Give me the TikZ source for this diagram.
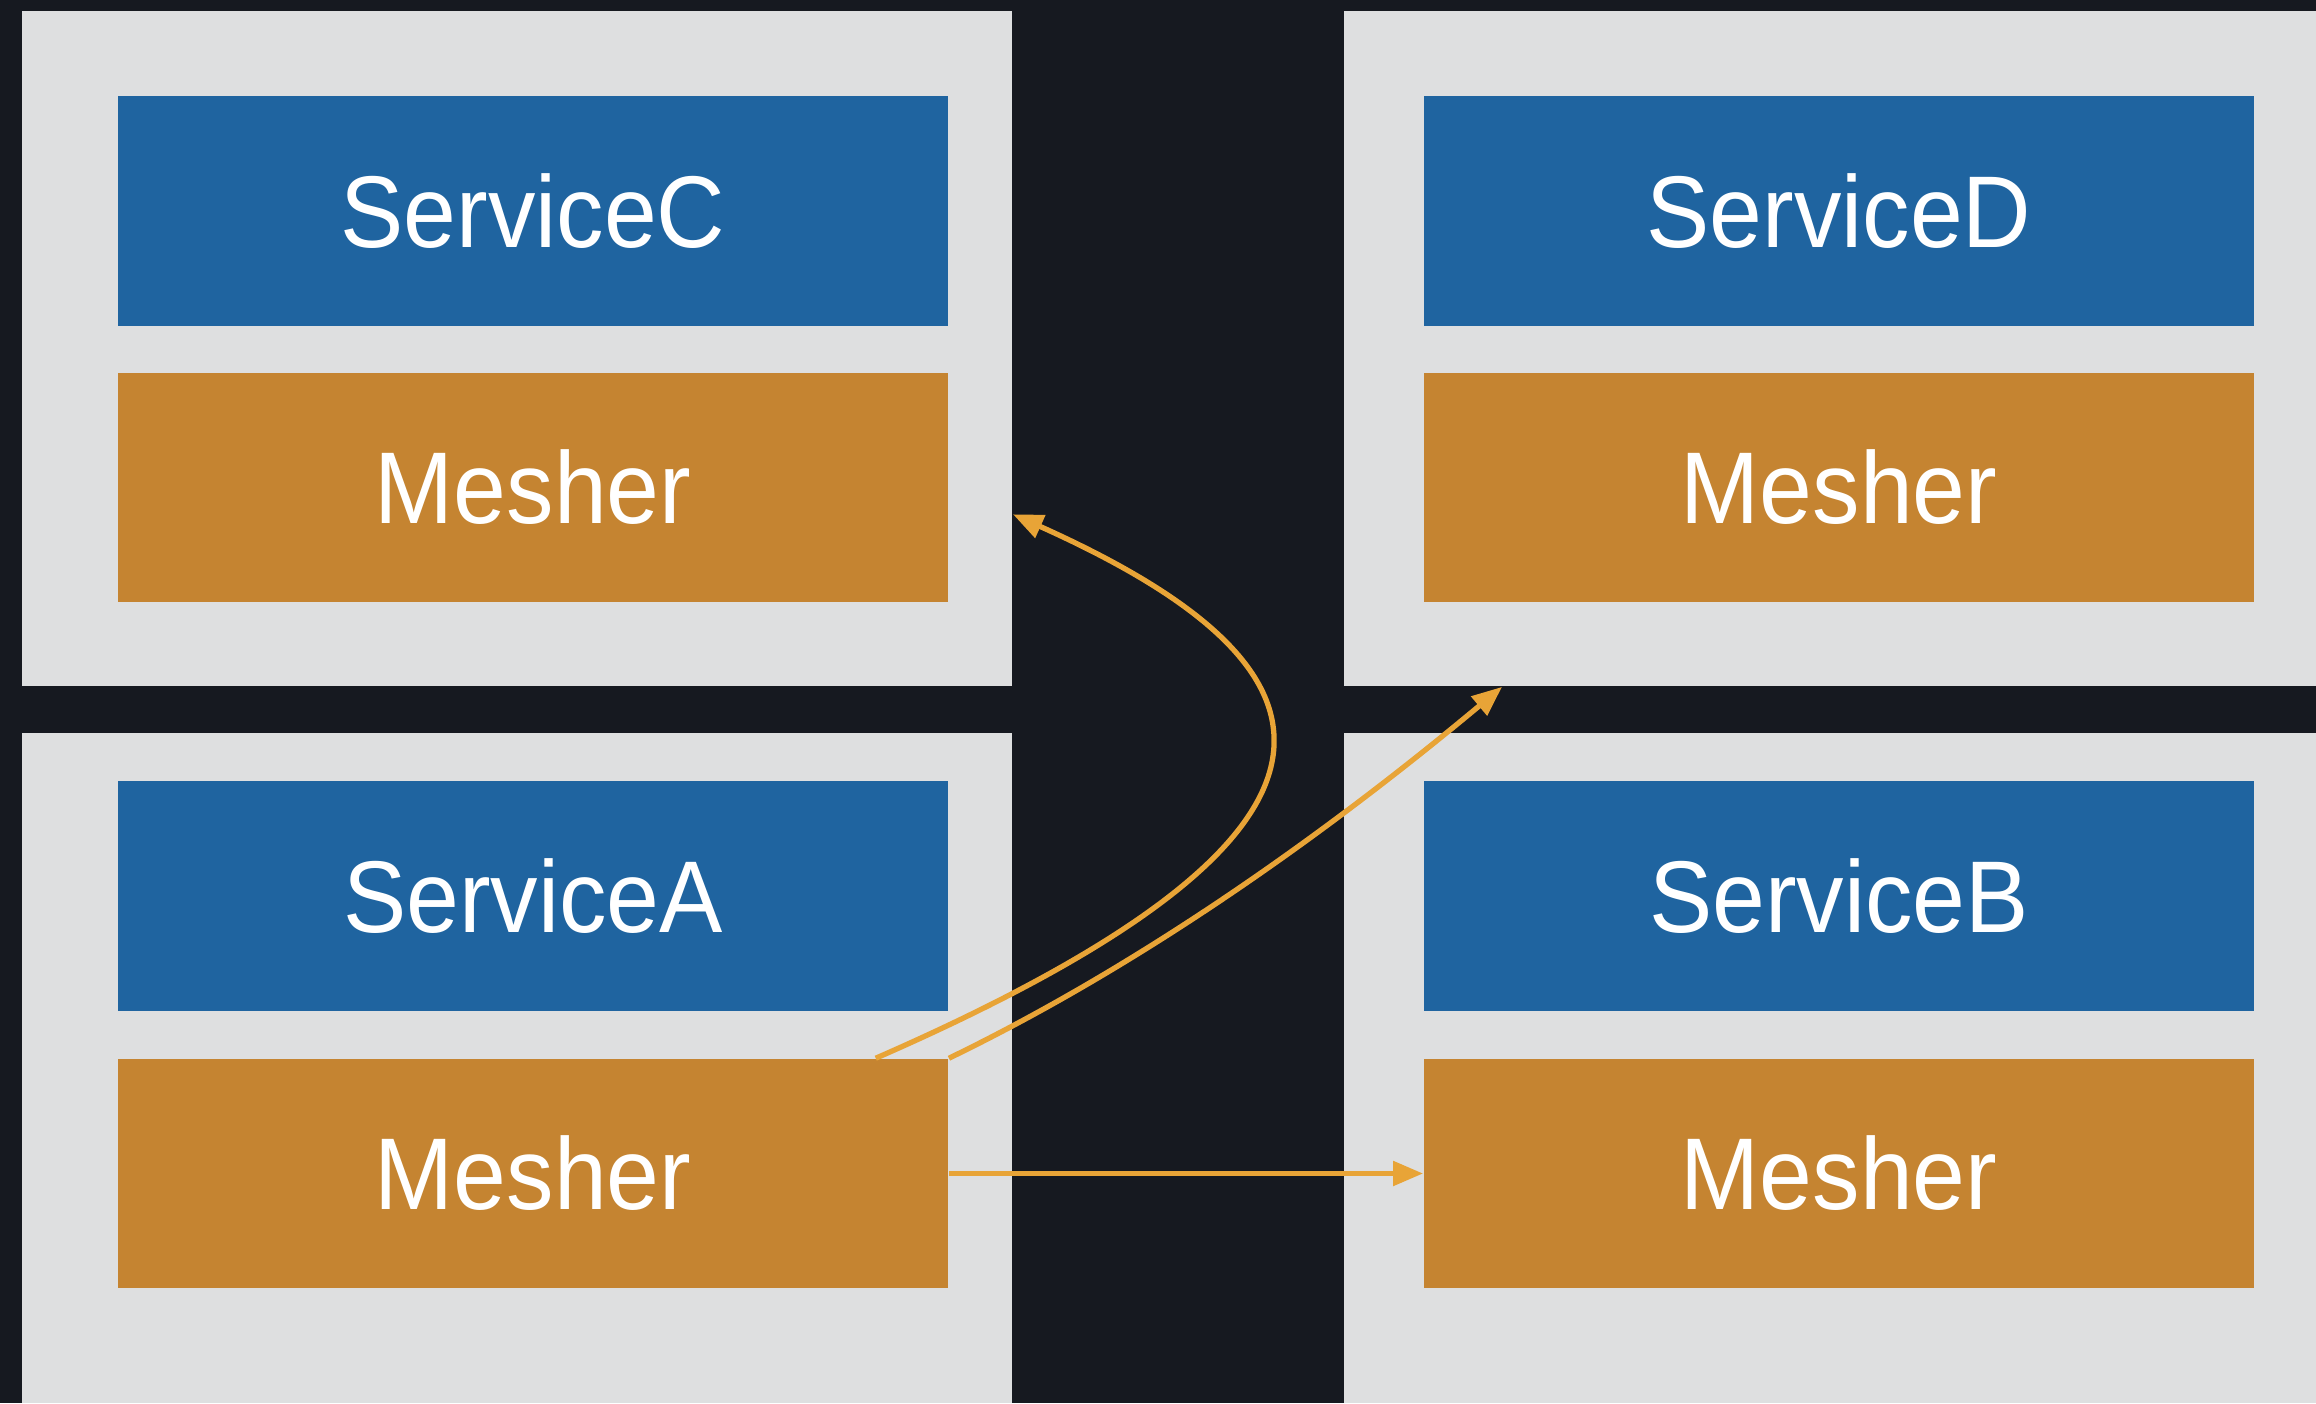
\documentclass[tikz,border=0pt]{standalone}
\usepackage{fontspec}
\setmainfont[FakeStretch=0.93]{Liberation Sans}
\usetikzlibrary{calc,arrows.meta}
\definecolor{bgdark}{HTML}{161920}
\definecolor{panelgrey}{HTML}{DEDFE0}
\definecolor{svcblue}{HTML}{1F64A0}
\definecolor{meshorange}{HTML}{C58431}
\definecolor{arroworange}{HTML}{E8A437}
\tikzset{
  panel/.style={fill=panelgrey, draw=none, inner sep=0pt, minimum width=9.9cm, minimum height=6.75cm},
  svcbox/.style={fill=svcblue, draw=none, inner sep=0pt, minimum width=8.3cm, minimum height=2.3cm, text=white, font=\fontsize{29}{34}\selectfont},
  meshbox/.style={fill=meshorange, draw=none, inner sep=0pt, minimum width=8.3cm, minimum height=2.29cm, text=white, font=\fontsize{29}{34}\selectfont},
  flow/.style={draw=arroworange, line width=1.5pt, -{Triangle[length=0.3cm,width=0.24cm]}}
}
\begin{document}
\begin{tikzpicture}[x=0.01cm,y=0.01cm]
\fill[bgdark] (0,0) rectangle (2316,1403);
\useasboundingbox (0,0) rectangle (2316,1403);
% panels
\node[panel] (panelC) at (517,1054.5) {};
\node[panel, minimum width=9.72cm] (panelD) at (1830,1054.5) {};
\node[panel, minimum height=6.7cm] (panelA) at (517,335) {};
\node[panel, minimum width=9.72cm, minimum height=6.7cm] (panelB) at (1830,335) {};
% boxes
\node[svcbox] (svcC) at (533,1192) {ServiceC};
\node[meshbox] (meshC) at (533,915.5) {Mesher};
\node[svcbox] (svcD) at (1839,1192) {ServiceD};
\node[meshbox] (meshD) at (1839,915.5) {Mesher};
\node[svcbox] (svcA) at (533,507) {ServiceA};
\node[meshbox] (meshA) at (533,229.5) {Mesher};
\node[svcbox] (svcB) at (1839,507) {ServiceB};
\node[meshbox] (meshB) at (1839,229.5) {Mesher};
% connector ends
\coordinate (startC) at ($(meshA.north west)!0.912!(meshA.north east)$);
\coordinate (endC) at ($(panelC.south east)!0.255!(panelC.north east)$);
\coordinate (endD) at ($(panelD.south west)+(159,0)$);
% connectors
\draw[flow] (startC) .. controls +(538,235) and +(330,-148) .. (endC);
\draw[flow] (meshA.north east) .. controls +(198,96) and +(-169,-141) .. (endD);
\draw[flow] (meshA.east) -- (meshB.west);
\end{tikzpicture}
\end{document}
